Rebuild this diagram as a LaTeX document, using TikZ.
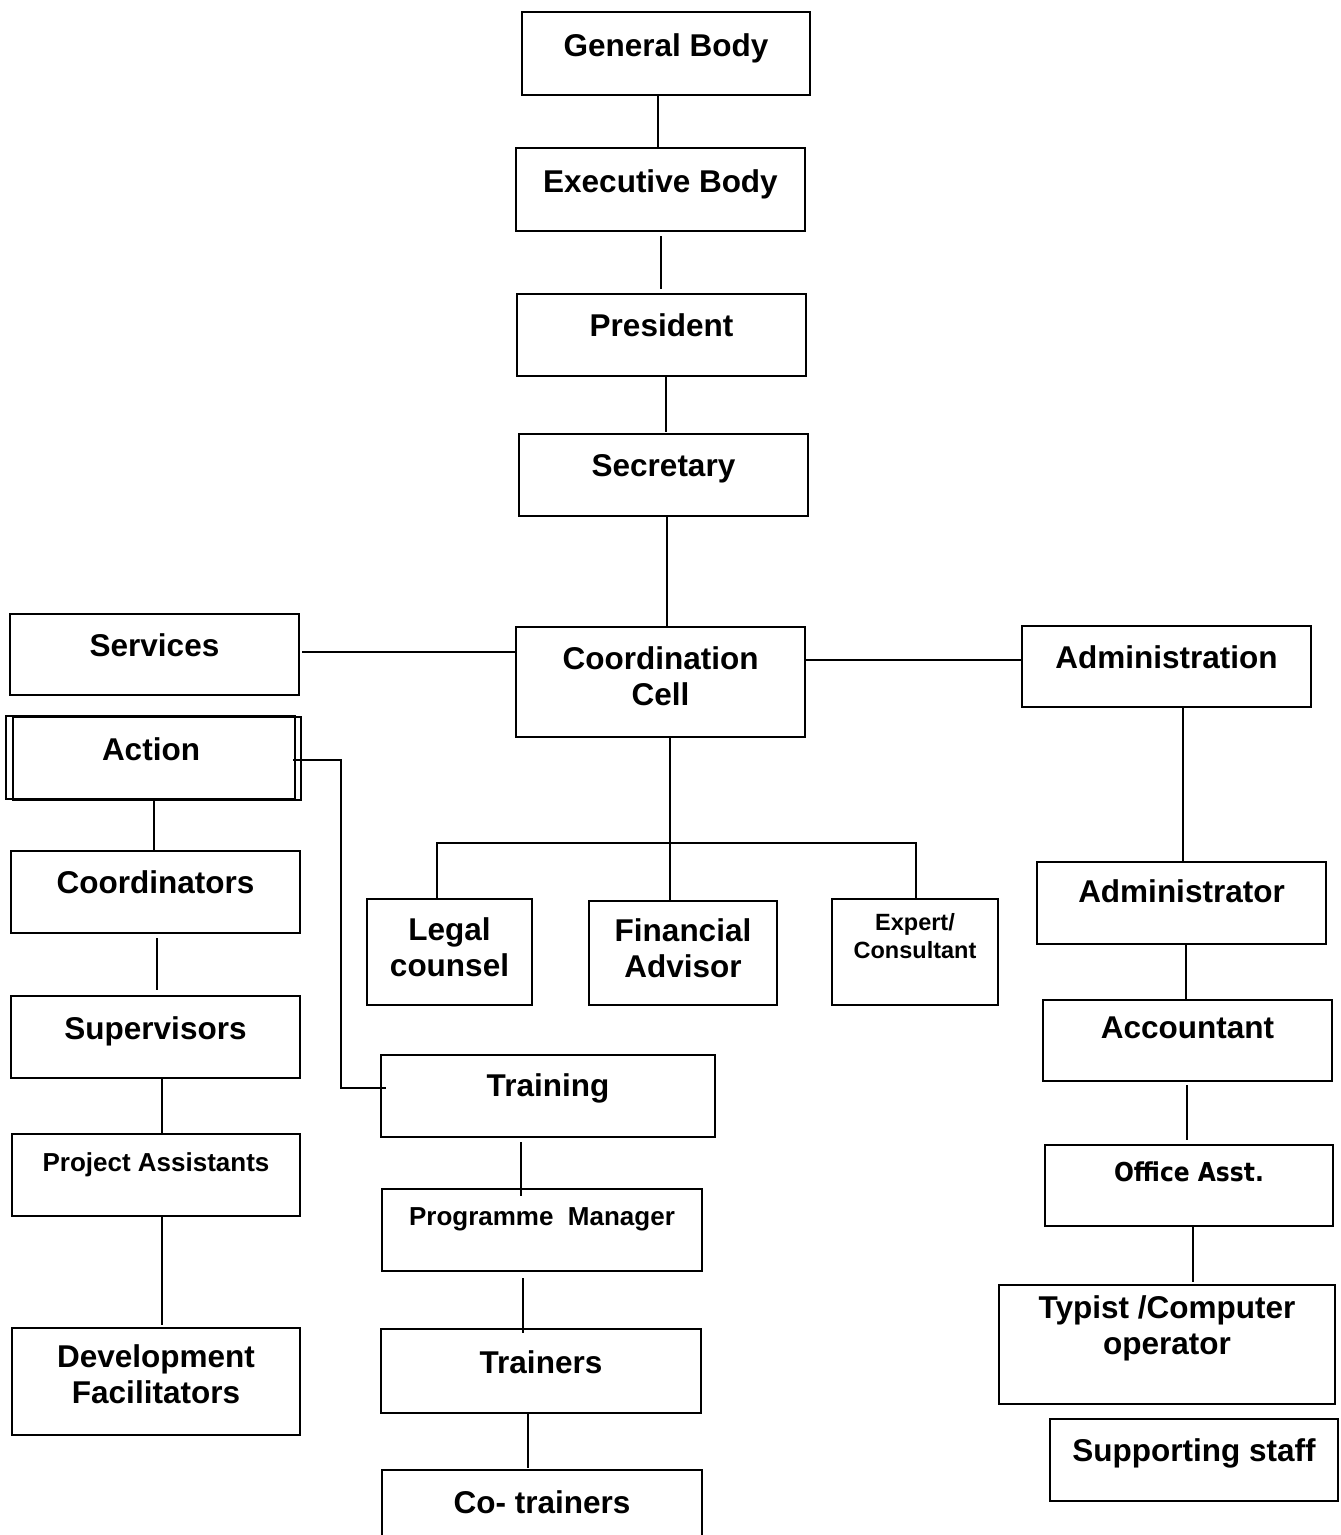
\documentclass[tikz,border=0pt]{standalone}
\usepackage{fontspec}
\setmainfont{Liberation Sans}
\newfontfamily\offfont{DejaVu Sans Condensed}
\newcommand\bigf{\fontsize{31.5}{36}\selectfont\bfseries}
\newcommand\midf{\fontsize{26}{30}\selectfont\bfseries}
\newcommand\smf{\fontsize{23.5}{28}\selectfont\bfseries}
\newcommand\offf{\offfont\fontsize{26}{30}\selectfont\bfseries}
\tikzset{
  box/.style={draw, line width=2pt, inner sep=0pt, outer sep=0pt},
  thinbox/.style={draw, line width=1.5pt},
  conn/.style={line width=1.6pt}
}
\newcommand\bx[8][\bigf]{%
  \pgfmathsetmacro\bxw{#5-#3}%
  \pgfmathsetmacro\bxh{#6-#4}%
  \node[box,anchor=north west] (#2) at (#3,#4)
    {\parbox[c][\bxh pt][t]{\bxw pt}{#1\centering\vspace*{\dimexpr#7pt-0.75em\relax}\rule{0pt}{0.75em}#8}};}
\begin{document}
\begin{tikzpicture}[x=1pt,y=-1pt]
\useasboundingbox (0,0) rectangle (1341,1535);
% top chain
\bx{gb}{522}{12}{810}{95}{44}{General Body}
\bx{eb}{516}{148}{805}{231}{44}{Executive Body}
\bx{pres}{517}{294}{806}{376}{42}{President}
\bx{sec}{519}{434}{808}{516}{42}{Secretary}
\bx{services}{10}{614}{299}{695}{42}{Services}
\bx{cc}{516}{627}{805}{737}{42}{Coordination\\Cell}
\bx{admin}{1022}{626}{1311}{707}{42}{Administration}
% left column
\bx{action}{13}{717}{301}{800}{43}{Action\hspace*{12pt}}
\draw[thinbox] ([xshift=-7pt,yshift=1pt]action.north west) rectangle ([xshift=-6pt,yshift=1pt]action.south east);
\bx{coord}{11}{851}{300}{933}{42}{Coordinators}
\bx{sup}{11}{996}{300}{1078}{43}{Supervisors}
\bx[\midf]{pa}{12}{1134}{300}{1216}{37}{Project Assistants}
\bx{df}{12}{1328}{300}{1435}{39}{Development\\Facilitators}
% middle
\bx{legal}{367}{899}{532}{1005}{41}{Legal\\counsel}
\bx{fin}{589}{901}{777}{1005}{40}{Financial\\Advisor}
\bx[\smf]{exp}{832}{899}{998}{1005}{31}{Expert/\\Consultant}
\bx{training}{381}{1055}{715}{1137}{41}{Training}
\bx[\midf]{pm}{382}{1189}{702}{1271}{36}{Programme\ \ Manager}
\bx{trainers}{381}{1329}{701}{1413}{44}{Trainers}
\bx{co}{382}{1470}{702}{1540}{43}{Co- trainers}
% right column
\bx{adm}{1037}{862}{1326}{944}{40}{Administrator}
\bx{acc}{1043}{1000}{1332}{1081}{38}{Accountant}
\bx[\offf]{office}{1045}{1145}{1333}{1226}{36}{Office Asst.}
\bx{typist}{999}{1285}{1335}{1404}{33}{Typist /Computer\\operator}
\bx{support}{1050}{1419}{1338}{1501}{42}{Supporting staff}
% connectors
\draw[conn] (gb.south -| 658,0) -- (eb.north -| 658,0);
\draw[conn, shorten <=5pt, shorten >=5pt] (eb.south -| 661,0) -- (pres.north -| 661,0);
\draw[conn, shorten >=2pt] (pres.south -| 666,0) -- (sec.north -| 666,0);
\draw[conn] (sec.south -| 667,0) -- (cc.north -| 667,0);
\draw[conn, shorten <=3pt] (services.east |- 0,652) -- (cc.west |- 0,652);
\draw[conn] (cc.east |- 0,660) -- (admin.west |- 0,660);
\coordinate (bus) at (670,843);
\draw[conn] (cc.south -| bus) -- (bus);
\draw[conn] (legal.north -| 437,0) |- (bus) -| (exp.north -| 916,0);
\draw[conn] (bus) -- (fin.north -| bus);
\draw[conn] (admin.south -| 1183,0) -- (adm.north -| 1183,0);
\draw[conn] (adm.south -| 1186,0) -- (acc.north -| 1186,0);
\draw[conn, shorten <=4pt, shorten >=5pt] (acc.south -| 1187,0) -- (office.north -| 1187,0);
\draw[conn, shorten >=3pt] (office.south -| 1193,0) -- (typist.north -| 1193,0);
\draw[conn] (action.south -| 154,0) -- (coord.north -| 154,0);
\draw[conn, shorten <=5pt, shorten >=6pt] (coord.south -| 157,0) -- (sup.north -| 157,0);
\draw[conn] (sup.south -| 162,0) -- (pa.north -| 162,0);
\draw[conn, shorten >=3pt] (pa.south -| 162,0) -- (df.north -| 162,0);
\coordinate (tbend) at (341,1088);
\draw[conn, shorten <=-8pt, shorten >=-5pt] (action.east |- 0,760) -| (tbend) -- (training.west |- tbend);
\draw[conn, shorten <=5pt, shorten >=-7pt] (training.south -| 521,0) -- (pm.north -| 521,0);
\draw[conn, shorten <=7pt, shorten >=-4pt] (pm.south -| 523,0) -- (trainers.north -| 523,0);
\draw[conn, shorten >=2pt] (trainers.south -| 528,0) -- (co.north -| 528,0);
\end{tikzpicture}
\end{document}
